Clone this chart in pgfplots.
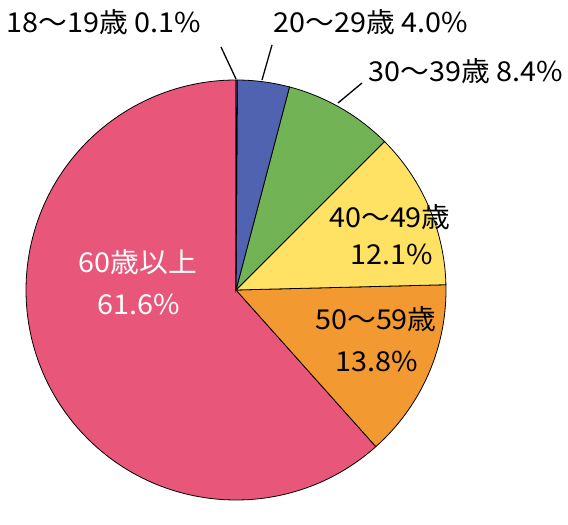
\documentclass[border=0pt]{standalone}
\usepackage{fontspec}
\setmainfont{Noto Sans CJK JP}[FakeStretch=1.05]
\usepackage{pgfplots}
\usepackage{pgfplotstable}
\pgfplotsset{compat=1.18}
\definecolor{cA}{HTML}{8A5AA8}
\definecolor{cB}{HTML}{4F63B0}
\definecolor{cC}{HTML}{72B356}
\definecolor{cD}{HTML}{FFE163}
\definecolor{cE}{HTML}{F29A31}
\definecolor{cF}{HTML}{E8567A}
\pgfplotstableread{
value
0.1
4.0
8.4
12.1
13.8
61.6
}\piedata
\begin{document}
\begin{tikzpicture}
\pgfmathsetmacro\aA{90}
\pgfplotstablegetelem{0}{value}\of\piedata \pgfmathsetmacro\aB{\aA-3.6*\pgfplotsretval}
\pgfplotstablegetelem{1}{value}\of\piedata \pgfmathsetmacro\aC{\aB-3.6*\pgfplotsretval}
\pgfplotstablegetelem{2}{value}\of\piedata \pgfmathsetmacro\aD{\aC-3.6*\pgfplotsretval}
\pgfplotstablegetelem{3}{value}\of\piedata \pgfmathsetmacro\aE{\aD-3.6*\pgfplotsretval}
\pgfplotstablegetelem{4}{value}\of\piedata \pgfmathsetmacro\aF{\aE-3.6*\pgfplotsretval}
\pgfplotstablegetelem{5}{value}\of\piedata \pgfmathsetmacro\aG{\aF-3.6*\pgfplotsretval}
\begin{axis}[
  width=568bp, height=499bp, scale only axis,
  xmin=0, xmax=568, ymin=0, ymax=499,
  hide axis, clip=false,
]
\path (axis cs:0,0) rectangle (axis cs:568,499);
\def\cx{236}\def\cy{209}\def\R{210bp}
\filldraw[fill=cF, draw=black, line width=0.8pt] (axis cs:\cx,\cy) -- ++(\aF:\R) arc[start angle=\aF, end angle=\aG, radius=\R] -- cycle;
\filldraw[fill=cE, draw=black, line width=0.8pt] (axis cs:\cx,\cy) -- ++(\aE:\R) arc[start angle=\aE, end angle=\aF, radius=\R] -- cycle;
\filldraw[fill=cD, draw=black, line width=0.8pt] (axis cs:\cx,\cy) -- ++(\aD:\R) arc[start angle=\aD, end angle=\aE, radius=\R] -- cycle;
\filldraw[fill=cC, draw=black, line width=0.8pt] (axis cs:\cx,\cy) -- ++(\aC:\R) arc[start angle=\aC, end angle=\aD, radius=\R] -- cycle;
\filldraw[fill=cB, draw=black, line width=0.8pt] (axis cs:\cx,\cy) -- ++(\aB:\R) arc[start angle=\aB, end angle=\aC, radius=\R] -- cycle;
\filldraw[fill=cA, draw=black, line width=0.8pt] (axis cs:\cx,\cy) -- ++(\aA:\R) arc[start angle=\aA, end angle=\aB, radius=\R] -- cycle;
% leader lines
\draw[line width=1.3pt] (axis cs:236,420) -- (axis cs:221,452);
\draw[line width=1.3pt] (axis cs:262,419) -- (axis cs:272,454);
\draw[line width=1.3pt] (axis cs:338,396) -- (axis cs:362,416);
% labels
\begin{scope}[every node/.style={font=\fontsize{27.5}{32}\selectfont, inner sep=0pt, anchor=base}]
\node at (axis cs:104,466) {18～19歳 0.1\%};
\node at (axis cs:371,466) {20～29歳 4.0\%};
\node at (axis cs:466,417) {30～39歳 8.4\%};
\node at (axis cs:390,271) {40～49歳};
\node at (axis cs:392,234) {12.1\%};
\node at (axis cs:376,169) {50～59歳};
\node at (axis cs:377,127) {13.8\%};
\node[text=white] at (axis cs:138,226) {60歳以上};
\node[text=white] at (axis cs:139,184) {61.6\%};
\end{scope}
\end{axis}
\end{tikzpicture}
\end{document}
